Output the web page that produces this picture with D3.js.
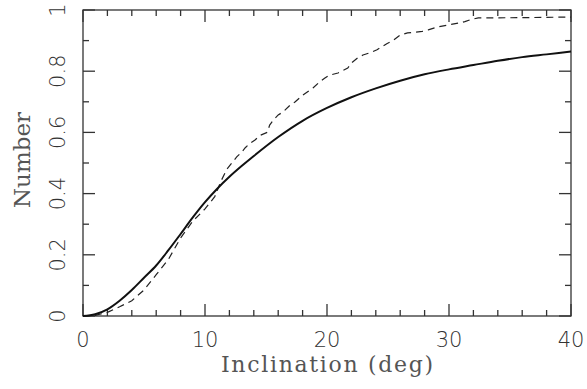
<!DOCTYPE html>
<html>
<head>
<meta charset="utf-8">
<script src="https://cdn.jsdelivr.net/npm/d3@7"></script>
<style>
  body { margin: 0; background: #fff; }
  svg { display: block; }
</style>
</head>
<body>
<script>
// model curve (solid)
var modelX = [0, 1, 2, 3, 4, 5, 6, 7, 8, 9, 10, 11, 12, 13, 14, 16, 18, 20, 22, 24, 26, 28, 30, 32, 34, 36, 38, 40];
var modelY = [0, 0.006, 0.022, 0.05, 0.085, 0.125, 0.165, 0.215, 0.268, 0.322, 0.372, 0.416, 0.455, 0.49, 0.523, 0.585, 0.638, 0.68, 0.715, 0.744, 0.769, 0.79, 0.806, 0.82, 0.834, 0.846, 0.855, 0.864];

// observed cumulative (dashed)
var obsX = [0, 1, 2, 3, 4, 5, 6, 7, 8, 9, 10, 10.8, 11.3, 11.8, 12.2, 12.6, 13.0, 13.3, 13.7, 14.1, 14.5, 15.1, 15.3, 15.6, 16.0, 16.4, 17.0, 17.4, 17.95, 18.85, 19.4, 19.8, 20.2, 20.9, 21.2, 21.7, 22.0, 22.5, 22.95, 23.5, 24.1, 24.5, 24.9, 25.4, 26.0, 26.6, 27.8, 28.3, 29.1, 29.9, 30.9, 31.3, 31.9, 32.4, 36, 40];
var obsY = [0, 0.002, 0.012, 0.03, 0.05, 0.085, 0.135, 0.185, 0.255, 0.31, 0.35, 0.39, 0.44, 0.48, 0.5, 0.52, 0.535, 0.55, 0.565, 0.575, 0.59, 0.6, 0.624, 0.64, 0.657, 0.667, 0.69, 0.7, 0.72, 0.745, 0.765, 0.777, 0.787, 0.794, 0.8, 0.81, 0.827, 0.843, 0.853, 0.86, 0.87, 0.88, 0.89, 0.9, 0.918, 0.925, 0.93, 0.935, 0.945, 0.951, 0.958, 0.962, 0.97, 0.974, 0.975, 0.977];

var xTicks = [0, 10, 20, 30, 40];
var yTicks = [0, 0.2, 0.4, 0.6, 0.8, 1];
var xTitle = "Inclination (deg)";
var yTitle = "Number";

var margin = {top: 10, right: 16, bottom: 73, left: 83},
    width = 587 - margin.left - margin.right,
    height = 389 - margin.top - margin.bottom;

var svg = d3.select("body").append("svg")
    .attr("width", 587)
    .attr("height", 389);

var g = svg.append("g")
    .attr("transform", "translate(" + margin.left + "," + margin.top + ")");

var x = d3.scaleLinear().domain([0, 40]).range([0, width]);
var y = d3.scaleLinear().domain([0, 1]).range([height, 0]);

var ink = "#333";

// frame
g.append("rect")
    .attr("width", width)
    .attr("height", height)
    .attr("fill", "none")
    .attr("stroke", ink)
    .attr("stroke-width", 1.3);

// ticks pointing inward on all four sides
var xMinor = d3.range(0, 40.01, 2);
var yMinor = d3.range(0, 1.001, 0.1);
xMinor.forEach(function(v) {
    var len = (Math.round(v) % 10 === 0) ? 12 : 6;
    g.append("line").attr("x1", x(v)).attr("x2", x(v)).attr("y1", height).attr("y2", height - len)
        .attr("stroke", ink).attr("stroke-width", 1.3);
    g.append("line").attr("x1", x(v)).attr("x2", x(v)).attr("y1", 0).attr("y2", len)
        .attr("stroke", ink).attr("stroke-width", 1.3);
});
yMinor.forEach(function(v) {
    var len = (Math.round(v * 10) % 2 === 0) ? 12 : 6;
    g.append("line").attr("x1", 0).attr("x2", len).attr("y1", y(v)).attr("y2", y(v))
        .attr("stroke", ink).attr("stroke-width", 1.3);
    g.append("line").attr("x1", width).attr("x2", width - len).attr("y1", y(v)).attr("y2", y(v))
        .attr("stroke", ink).attr("stroke-width", 1.3);
});

// tick labels
g.selectAll(".xlab").data(xTicks).enter().append("text")
    .attr("x", function(d) { return x(d); })
    .attr("y", height + 31)
    .attr("text-anchor", "middle")
    .attr("font-family", "DejaVu Sans, sans-serif")
    .attr("font-weight", 200)
    .attr("font-size", 21)
    .attr("fill", "#333")
    .text(function(d) { return d; });

g.selectAll(".ylab").data(yTicks).enter().append("text")
    .attr("transform", function(d) { return "translate(-18," + y(d) + ") rotate(-90)"; })
    .attr("text-anchor", "middle")
    .attr("font-family", "DejaVu Sans, sans-serif")
    .attr("font-weight", 200)
    .attr("font-size", 21)
    .attr("fill", "#333")
    .text(function(d) { return d; });

// axis titles
svg.append("text")
    .attr("x", margin.left + width / 2)
    .attr("y", 372)
    .attr("text-anchor", "middle")
    .attr("font-family", "DejaVu Serif, serif")
    .attr("font-size", 22)
    .attr("textLength", 212)
    .attr("lengthAdjust", "spacing")
    .attr("fill", "#555")
    .text(xTitle);

svg.append("text")
    .attr("transform", "translate(30,160) rotate(-90)")
    .attr("text-anchor", "middle")
    .attr("font-family", "DejaVu Serif, serif")
    .attr("font-size", 23)
    .attr("textLength", 96)
    .attr("lengthAdjust", "spacing")
    .attr("fill", "#555")
    .text(yTitle);

// curves
var line = d3.line()
    .x(function(d) { return x(d[0]); })
    .y(function(d) { return y(d[1]); });

g.append("path")
    .datum(obsX.map(function(v, i) { return [v, obsY[i]]; }))
    .attr("d", line)
    .attr("fill", "none")
    .attr("stroke", "#222")
    .attr("stroke-width", 1.2)
    .attr("stroke-dasharray", "7,5");

g.append("path")
    .datum(modelX.map(function(v, i) { return [v, modelY[i]]; }))
    .attr("d", line.curve(d3.curveMonotoneX))
    .attr("fill", "none")
    .attr("stroke", "#111")
    .attr("stroke-width", 2);
</script>
</body>
</html>
